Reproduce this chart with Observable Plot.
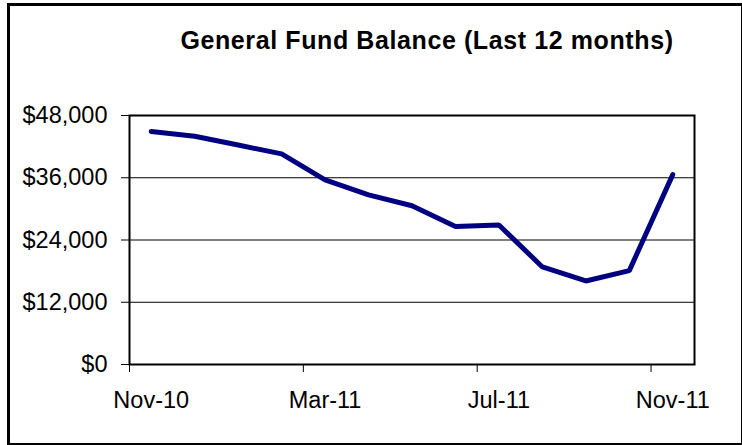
<!DOCTYPE html>
<html>
<head>
<meta charset="utf-8">
<script src="https://cdn.jsdelivr.net/npm/d3@7"></script>
<script src="https://cdn.jsdelivr.net/npm/@observablehq/plot@0.6"></script>
<style>
  html, body { margin: 0; padding: 0; background: #fff; }
  #wrap { position: relative; width: 742px; height: 445px; overflow: hidden; font-family: "Liberation Sans", Arial, sans-serif; }
  #frame { position: absolute; left: 7px; top: 3px; width: 731px; height: 437px; border: 3px solid #000; box-sizing: content-box; }
  #title { position: absolute; left: 0; width: 854px; top: 26px; text-align: center; font-weight: bold; font-size: 25px; letter-spacing: 0.6px; color: #000; white-space: nowrap; line-height: 29px; }
  #chart { position: absolute; left: 0; top: 0; }
</style>
</head>
<body>
<div id="wrap">
  <div id="frame"></div>
  <div id="chart"></div>
  <div id="title">General Fund Balance (Last 12 months)</div>
</div>
<script>
const months = ["Nov-10","Dec-10","Jan-11","Feb-11","Mar-11","Apr-11","May-11","Jun-11","Jul-11","Aug-11","Sep-11","Oct-11","Nov-11"];
const balance = [44900, 44000, 42300, 40600, 35600, 32700, 30600, 26600, 26900, 18800, 16100, 18100, 36600];
const xTickLabels = ["Nov-10","Mar-11","Jul-11","Nov-11"];
const yTicks = [0, 12000, 24000, 36000, 48000];

const data = months.map((m, i) => ({month: m, idx: i + 0.5, value: balance[i]}));
const labelPos = xTickLabels.map(l => months.indexOf(l) + 0.5);
const edgePos = xTickLabels.map(l => months.indexOf(l));

const chart = Plot.plot({
  width: 742,
  height: 445,
  marginLeft: 129,
  marginRight: 48,
  marginTop: 115,
  marginBottom: 81,
  style: {fontFamily: "'Liberation Sans', Arial, sans-serif", fontSize: "23.5px", color: "#000", background: "transparent"},
  x: {type: "linear", domain: [0, months.length]},
  y: {domain: [0, 48000]},
  marks: [
    Plot.gridY(yTicks, {stroke: "#000", strokeOpacity: 1, strokeWidth: 1}),
    Plot.frame({stroke: "#000", strokeWidth: 2}),
    Plot.axisY({ticks: yTicks, tickSize: 8, tickPadding: 14, tickFormat: d => "$" + d3.format(",")(d), label: null, fontSize: 23.5}),
    Plot.axisX({ticks: edgePos, tickSize: 8, tickFormat: () => "", label: null}),
    Plot.axisX({ticks: labelPos, tickSize: 0, tickPadding: 27, tickFormat: v => months[Math.floor(v)], label: null, fontSize: 23.5}),
    Plot.line(data, {x: "idx", y: "value", stroke: "#000080", strokeWidth: 5, strokeLinecap: "round", strokeLinejoin: "miter"})
  ]
});
document.getElementById("chart").appendChild(chart);
</script>
</body>
</html>
